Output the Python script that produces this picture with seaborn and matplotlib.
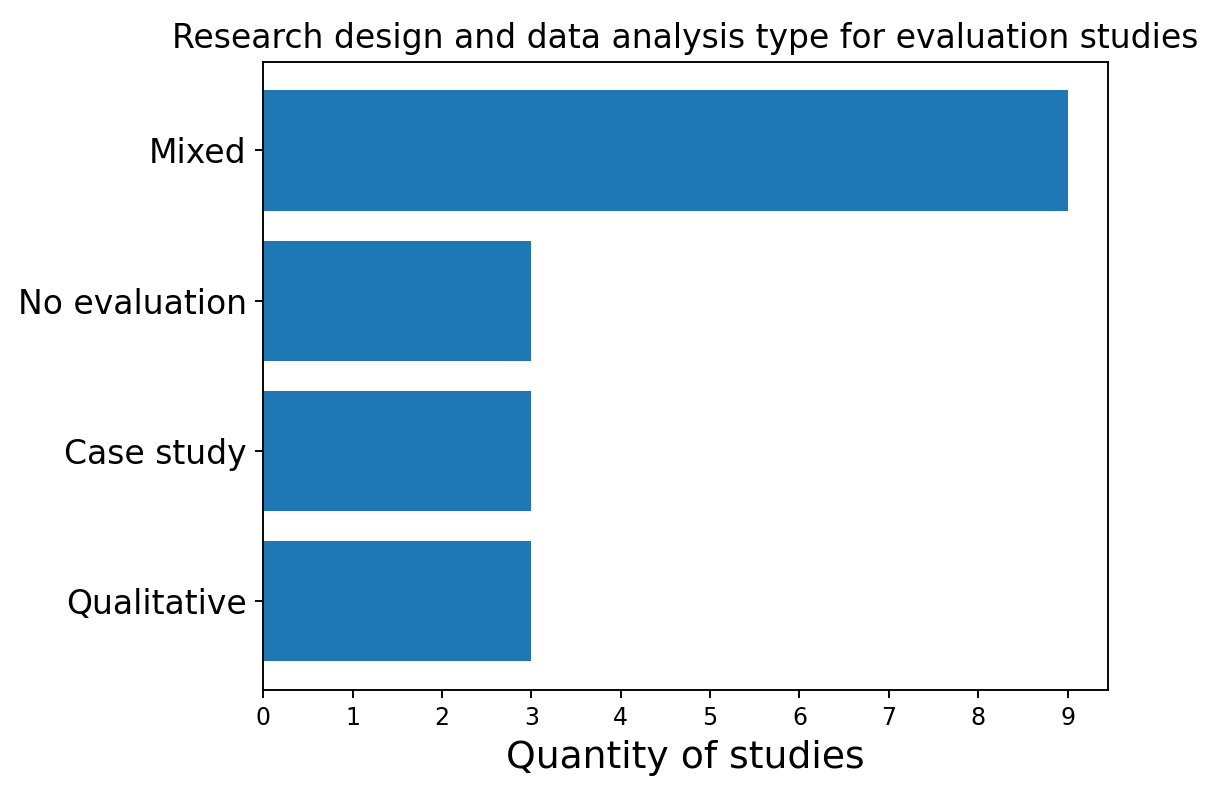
import pandas as pd
import matplotlib
matplotlib.use("Agg")
import matplotlib.pyplot as plt
import seaborn as sns

# Data (top to bottom)
categories = ["Mixed", "No evaluation", "Case study", "Qualitative"]
counts = [9, 3, 3, 3]

df = pd.DataFrame({"design": categories, "count": counts})

DPI = 170
fig = plt.figure(figsize=(1224 / DPI, 792 / DPI), dpi=DPI)
ax = fig.add_axes([0.215, 0.129, 0.69, 0.793])

sns.barplot(data=df, x="count", y="design", order=categories, orient="h",
            color="#1f77b4", saturation=1, width=0.8, ax=ax)

# matplotlib-like margins around the bars
n = len(categories)
ax.set_ylim(n - 1 + 0.4 + 0.19, -0.4 - 0.19)
ax.set_xlim(0, 9.45)
ax.set_xticks(range(0, 10))
ax.tick_params(axis="x", labelsize=10)
ax.tick_params(axis="y", labelsize=14)
ax.set_ylabel("")
ax.set_xlabel("Quantity of studies", fontsize=16)
ax.set_title("Research design and data analysis type for evaluation studies", fontsize=14)

fig.savefig("out.png", dpi=DPI)
